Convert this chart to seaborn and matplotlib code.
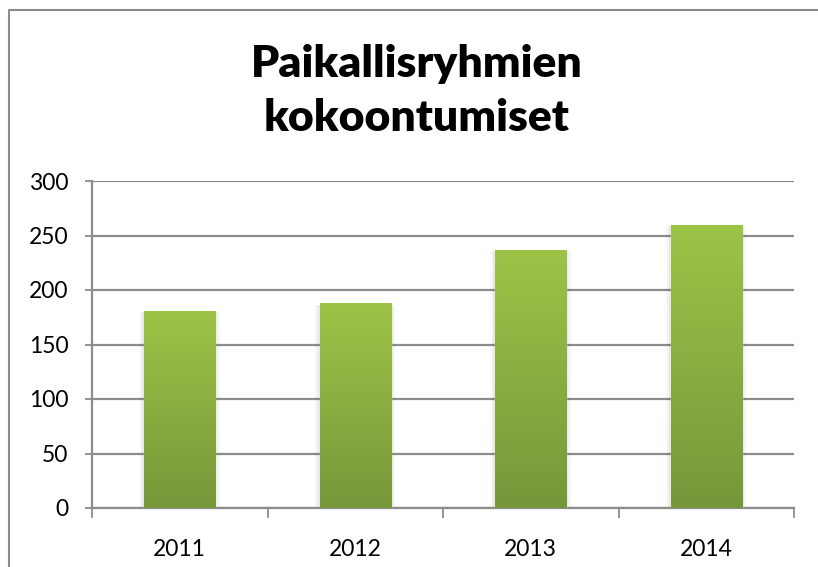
import numpy as np
import pandas as pd
import matplotlib
matplotlib.use("Agg")
import matplotlib.pyplot as plt
from matplotlib.colors import LinearSegmentedColormap
from matplotlib.patches import Rectangle
import seaborn as sns

years = ["2011", "2012", "2013", "2014"]
values = [181, 188, 237, 260]
y_ticks = [0, 50, 100, 150, 200, 250, 300]
title = "Paikallisryhmien\nkokoontumiset"

sns.set_theme(style="white")
plt.rcParams["font.family"] = ["Lato", "DejaVu Sans"]

fig = plt.figure(figsize=(8.18, 5.67), dpi=100)
ax = fig.add_axes([92 / 818, 1 - 508 / 567, (794 - 92) / 818, (508 - 181) / 567])

df = pd.DataFrame({"year": years, "value": values})
sns.barplot(data=df, x="year", y="value", ax=ax, color="#8DB043",
            width=0.405, saturation=1, zorder=3)

# gradient fill clipped to each bar
cmap = LinearSegmentedColormap.from_list("g", ["#76973A", "#9DC447"])
grad = np.linspace(0, 1, 256).reshape(-1, 1)
for p in list(ax.patches):
    x0, y0 = p.get_x(), p.get_y()
    w, h = p.get_width(), p.get_height()
    # soft side shadow
    for k, a in enumerate([0.05, 0.03, 0.015]):
        d = 0.01 * (k + 1)
        sh = Rectangle((x0 - d, y0), w + 2 * d, h - 1.5,
                       facecolor="black", alpha=a, edgecolor="none", zorder=2)
        ax.add_patch(sh)
    im = ax.imshow(grad, extent=[x0, x0 + w, y0, y0 + h], origin="lower",
                   cmap=cmap, aspect="auto", zorder=3.5)
    im.set_clip_path(p)

ax.set_xlim(-0.5, 3.5)
ax.set_ylim(0, 300)
ax.set_yticks(y_ticks)
ax.set_xlabel("")
ax.set_ylabel("")

ax.yaxis.grid(True, color="#8C8C8C", linewidth=1.6, zorder=1)
ax.set_axisbelow(True)
for s in ["top", "right"]:
    ax.spines[s].set_visible(False)
for s in ["left", "bottom"]:
    ax.spines[s].set_color("#8C8C8C")
    ax.spines[s].set_linewidth(1.6)

ax.tick_params(axis="y", which="major", length=5, width=1.3, color="#8C8C8C",
               direction="out", left=True, pad=12, labelsize=16.5, labelcolor="black")
ax.tick_params(axis="x", which="major", length=0, pad=22, labelsize=16.5,
               labelcolor="black")
ax.set_xticks([-0.5, 0.5, 1.5, 2.5, 3.5], minor=True)
ax.tick_params(axis="x", which="minor", length=7, width=1.3, color="#8C8C8C",
               direction="out", bottom=True)

fig.text(417 / 818, 1 - 91 / 567, title, ha="center", va="center",
         fontsize=32, fontweight="heavy", linespacing=1.4, color="black")

# chart-area border (top and left visible)
fig.add_artist(plt.Line2D([9 / 818, 1], [1 - 10 / 567, 1 - 10 / 567],
                          transform=fig.transFigure, color="#8C8C8C", linewidth=1.5))
fig.add_artist(plt.Line2D([9 / 818, 9 / 818], [0, 1 - 10 / 567],
                          transform=fig.transFigure, color="#8C8C8C", linewidth=1.5))

fig.savefig("out.png", dpi=100)
